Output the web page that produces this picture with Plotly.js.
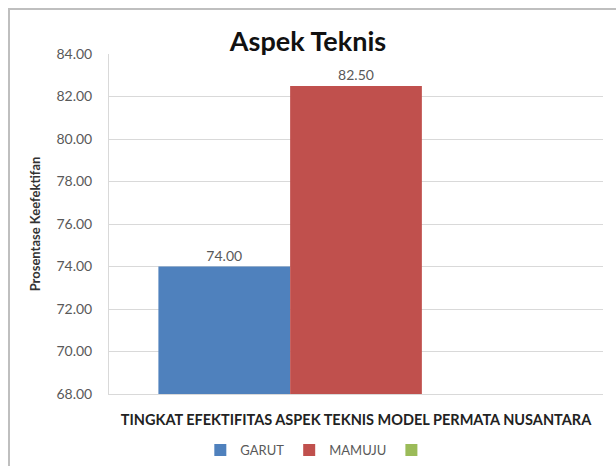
<!DOCTYPE html>
<html>
<head>
<meta charset="utf-8">
<script src="https://cdn.plot.ly/plotly-3.0.1.min.js"></script>
<style>
html,body{margin:0;padding:0;background:#fff;}
#chart{width:616px;height:466px;}
</style>
</head>
<body>
<div id="chart"></div>
<script>
const category = ["TINGKAT EFEKTIFITAS ASPEK TEKNIS MODEL PERMATA NUSANTARA"];
const seriesNames = ["GARUT", "MAMUJU", " "];
const garut = [74.00];
const mamuju = [82.50];
const third = [null];
const yTicks = [68, 70, 72, 74, 76, 78, 80, 82, 84];

const colors = ["#4F81BD", "#C0504D", "#9BBB59"];
const seriesValues = [garut, mamuju, third];
const labelFont = {family: "Lato, 'Open Sans', sans-serif", size: 14, color: "#595959"};

const traces = seriesValues.map((vals, i) => ({
  type: "bar",
  x: category,
  y: vals,
  name: seriesNames[i],
  marker: {color: colors[i], line: {width: 0}},
  text: vals.map(v => v == null ? "" : v.toFixed(2)),
  textposition: "outside",
  textfont: labelFont,
  cliponaxis: false,
  hoverinfo: "skip"
}));

const layout = {
  width: 616,
  height: 466,
  margin: {l: 109, r: 13, t: 54, b: 72},
  paper_bgcolor: "#ffffff",
  plot_bgcolor: "#ffffff",
  barmode: "group",
  bargap: 0.2,
  bargroupgap: 0,
  title: {
    text: "Aspek Teknis",
    font: {family: "Lato, 'Open Sans', sans-serif", size: 27, color: "#111111", weight: "bold"},
    x: 0.5, xref: "container", xanchor: "center",
    y: 1 - 42/466, yref: "container", yanchor: "middle"
  },
  xaxis: {
    showticklabels: false,
    ticks: "",
    showgrid: false,
    showline: true,
    linecolor: "#d9d9d9",
    linewidth: 1,
    zeroline: false,
    title: {
      text: "TINGKAT EFEKTIFITAS ASPEK TEKNIS MODEL PERMATA NUSANTARA",
      font: {family: "Lato, 'Open Sans', sans-serif", size: 14.5, color: "#222222", weight: "bold"},
      standoff: 20
    }
  },
  yaxis: {
    range: [68, 84],
    tickvals: yTicks,
    ticktext: yTicks.map(v => v.toFixed(2)),
    ticks: "",
    ticklabelstandoff: 13,
    tickfont: {family: "Lato, 'Open Sans', sans-serif", size: 14, color: "#595959"},
    showgrid: true,
    gridcolor: "#d9d9d9",
    gridwidth: 1,
    showline: true,
    linecolor: "#d9d9d9",
    linewidth: 1,
    zeroline: false,
    title: {
      text: "Prosentase Keefektifan",
      font: {family: "Lato, 'Open Sans', sans-serif", size: 13, color: "#333333", weight: "bold"},
      standoff: 12
    }
  },
  showlegend: true,
  legend: {
    orientation: "h",
    x: 0.52, xref: "container", xanchor: "center",
    y: 1 - 450/466, yref: "container", yanchor: "middle",
    font: {family: "Lato, 'Open Sans', sans-serif", size: 13, color: "#595959"},
    itemwidth: 30,
    itemsizing: "constant",
    traceorder: "normal"
  },
  shapes: [{
    type: "rect", xref: "paper", yref: "paper",
    x0: -100/494, x1: 616/494, y0: -200/340, y1: (394-9)/340,
    line: {color: "#bfbfbf", width: 2}, fillcolor: "rgba(0,0,0,0)", layer: "below"
  }]
};

Plotly.newPlot("chart", traces, layout, {displayModeBar: false, staticPlot: true});
</script>
</body>
</html>
